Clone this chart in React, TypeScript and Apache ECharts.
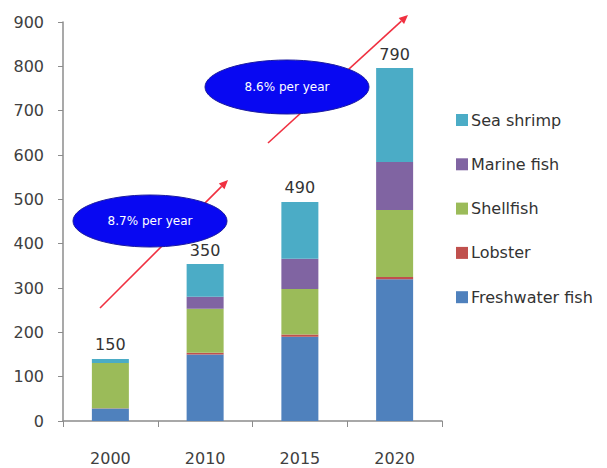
import React, { useEffect, useRef } from "react";
import * as echarts from "echarts";

const years = ["2000", "2010", "2015", "2020"];
const freshwaterFish = [28, 150, 190, 320];
const lobster = [1, 4, 5, 5];
const shellfish = [102, 99, 103, 151];
const marineFish = [0, 27, 68, 108];
const seaShrimp = [9, 74, 128, 212];
const totalLabels = ["150", "350", "490", "790"];
const legendOrder = ["Sea shrimp", "Marine fish", "Shellfish", "Lobster", "Freshwater fish"];
const growthNotes = ["8.7% per year", "8.6% per year"];

const FONT = "'DejaVu Sans', Verdana, sans-serif";

function arrow(x1: number, y1: number, x2: number, y2: number) {
  const dx = x2 - x1;
  const dy = y2 - y1;
  const len = Math.sqrt(dx * dx + dy * dy);
  const ux = dx / len;
  const uy = dy / len;
  const hl = 9;
  const hw = 4;
  const bx = x2 - ux * hl;
  const by = y2 - uy * hl;
  return [
    {
      type: "line",
      z: 10,
      shape: { x1, y1, x2: bx, y2: by },
      style: { stroke: "#F03040", lineWidth: 1.6 },
    },
    {
      type: "polygon",
      z: 10,
      shape: {
        points: [
          [x2, y2],
          [bx - uy * hw, by + ux * hw],
          [bx + uy * hw, by - ux * hw],
        ],
      },
      style: { fill: "#F03040" },
    },
  ];
}

function bubble(cx: number, cy: number, rx: number, ry: number, text: string) {
  return [
    {
      type: "ellipse",
      z: 20,
      shape: { cx, cy, rx, ry },
      style: { fill: "#0808F2", stroke: "#1A1AA0", lineWidth: 1 },
    },
    {
      type: "text",
      z: 21,
      x: cx,
      y: cy,
      style: {
        text,
        fill: "#FFFFFF",
        font: `12px ${FONT}`,
        align: "center",
        verticalAlign: "middle",
      },
    },
  ];
}

export default function App() {
  const ref = useRef<HTMLDivElement>(null);
  useEffect(() => {
    if (!ref.current) return;
    const chart = echarts.init(ref.current, undefined, { renderer: "svg" });
    const mk = (name: string, data: number[], color: string, extra: any = {}) => ({
      name,
      type: "bar",
      stack: "total",
      barWidth: 37,
      data,
      itemStyle: { color },
      ...extra,
    });
    chart.setOption({
      animation: false,
      backgroundColor: "#FFFFFF",
      textStyle: { fontFamily: FONT },
      grid: { left: 63, right: 165, top: 22, bottom: 47, containLabel: false },
      legend: {
        data: legendOrder,
        orient: "vertical",
        left: 451,
        top: 107,
        itemWidth: 12,
        itemHeight: 12,
        itemGap: 28.3,
        icon: "rect",
        textStyle: { fontSize: 16, color: "#333333", fontFamily: FONT, lineHeight: 16, padding: [0, 0, 0, -2] },
      },
      xAxis: {
        type: "category",
        data: years,
        axisLine: { lineStyle: { color: "#8C8C8C", width: 1.5 } },
        axisTick: { show: true, length: 6, lineStyle: { color: "#8C8C8C" } },
        axisLabel: { fontSize: 16, color: "#404040", margin: 29, fontFamily: FONT },
      },
      yAxis: {
        type: "value",
        min: 0,
        max: 900,
        interval: 100,
        axisLine: { show: true, lineStyle: { color: "#8C8C8C", width: 1.5 } },
        axisTick: { show: true, length: 5, lineStyle: { color: "#8C8C8C" } },
        splitLine: { show: false },
        axisLabel: { fontSize: 16, color: "#404040", margin: 19, fontFamily: FONT },
      },
      series: [
        mk("Freshwater fish", freshwaterFish, "#4F81BD"),
        mk("Lobster", lobster, "#C0504D"),
        mk("Shellfish", shellfish, "#9BBB59"),
        mk("Marine fish", marineFish, "#8064A2"),
        mk("Sea shrimp", seaShrimp, "#4BACC6", {
          label: {
            show: true,
            position: "top",
            distance: 6,
            fontSize: 16,
            color: "#333333",
            fontFamily: FONT,
            formatter: (p: any) => totalLabels[p.dataIndex],
          },
        }),
      ],
      graphic: [
        ...arrow(100, 308, 228, 180),
        ...arrow(268, 143, 408, 15),
        ...bubble(150, 221, 77, 26, growthNotes[0]),
        ...bubble(287, 87, 82, 27, growthNotes[1]),
      ],
    });
    return () => chart.dispose();
  }, []);
  return (
    <div
      ref={ref}
      style={{ position: "absolute", left: 0, top: 0, width: 607, height: 468 }}
    />
  );
}
